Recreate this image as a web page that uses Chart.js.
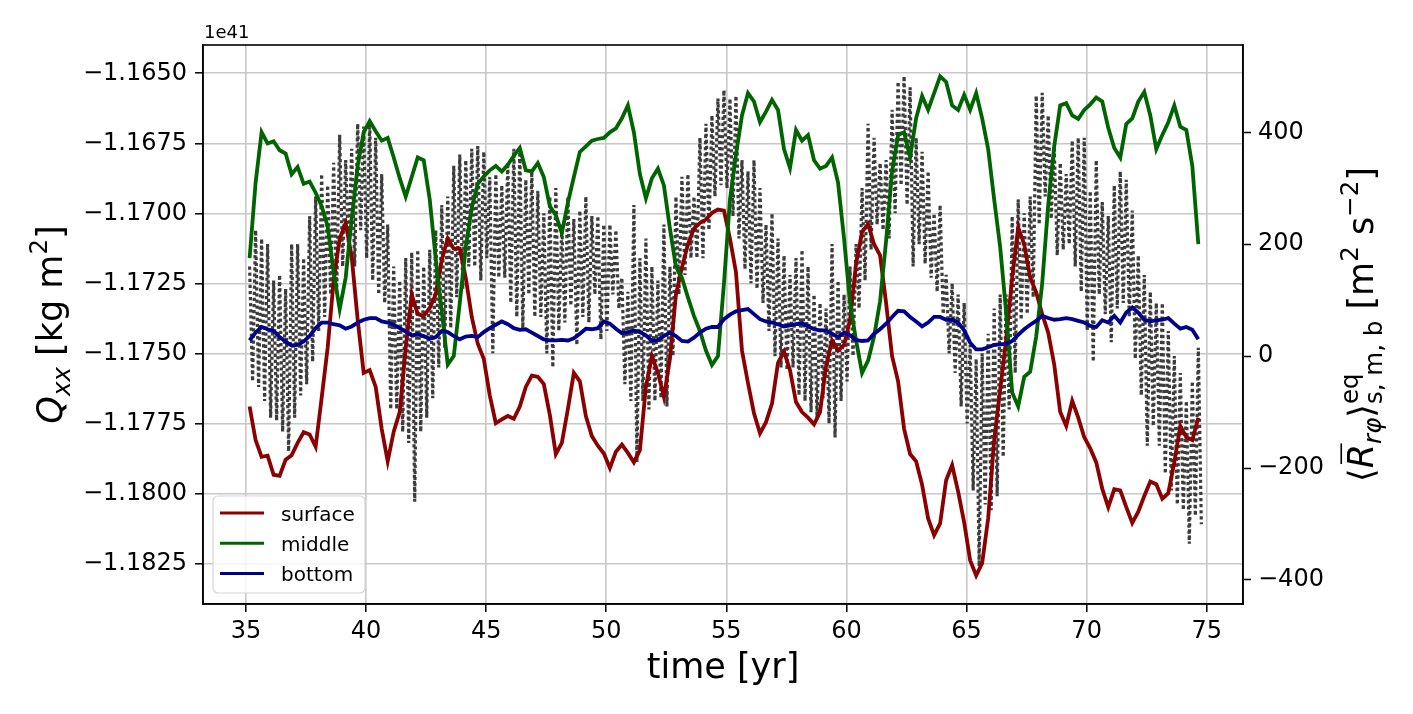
<!DOCTYPE html>
<html>
<head>
<meta charset="utf-8">
<title>Qxx and equatorial Reynolds stress</title>
<script src="https://cdn.jsdelivr.net/npm/chart.js@4.4.1/dist/chart.umd.min.js"></script>
<style>
  html, body { margin: 0; padding: 0; background: #fff; }
  #wrap { width: 1413px; height: 714px; }
</style>
</head>
<body>
<div id="wrap"><canvas id="chart" width="1413" height="714" style="width:1413px;height:714px"></canvas></div>
<script>
// sampling grid (years)
var T0 = 35.15;
var DT = 0.25;
var QXX_DT = 0.125;

var X_TICKS = [35, 40, 45, 50, 55, 60, 65, 70, 75];
var QXX_TICKS = [-1.1825, -1.1800, -1.1775, -1.1750, -1.1725, -1.1700, -1.1675, -1.1650];
var R_TICKS = [-400, -200, 0, 200, 400];

var QXX = [
  -1.1719, -1.1760, -1.1706, -1.1762, -1.1709, -1.1767, -1.1711, -1.1773, // 35
  -1.1724, -1.1774, -1.1722, -1.1778, -1.1727, -1.1785, -1.1711, -1.1773, // 36
  -1.1711, -1.1765, -1.1716, -1.1761, -1.1701, -1.1753, -1.1694, -1.1742, // 37
  -1.1686, -1.1737, -1.1690, -1.1729, -1.1682, -1.1729, -1.1672, -1.1719, // 38
  -1.1681, -1.1714, -1.1677, -1.1719, -1.1668, -1.1706, -1.1669, -1.1716, // 39
  -1.1667, -1.1724, -1.1673, -1.1729, -1.1686, -1.1732, -1.1704, -1.1770, // 40
  -1.1719, -1.1770, -1.1724, -1.1778, -1.1716, -1.1782, -1.1714, -1.1803, // 41
  -1.1713, -1.1778, -1.1719, -1.1773, -1.1713, -1.1766, -1.1706, -1.1755, // 42
  -1.1697, -1.1748, -1.1694, -1.1741, -1.1683, -1.1730, -1.1679, -1.1727, // 43
  -1.1681, -1.1719, -1.1677, -1.1719, -1.1676, -1.1724, -1.1678, -1.1716, // 44
  -1.1687, -1.1750, -1.1686, -1.1723, -1.1690, -1.1723, -1.1682, -1.1732, // 45
  -1.1677, -1.1737, -1.1677, -1.1741, -1.1688, -1.1729, -1.1685, -1.1737, // 46
  -1.1692, -1.1737, -1.1700, -1.1750, -1.1694, -1.1755, -1.1691, -1.1742, // 47
  -1.1704, -1.1739, -1.1694, -1.1733, -1.1702, -1.1747, -1.1699, -1.1737, // 48
  -1.1694, -1.1739, -1.1701, -1.1729, -1.1701, -1.1745, -1.1704, -1.1742, // 49
  -1.1704, -1.1729, -1.1706, -1.1734, -1.1723, -1.1761, -1.1728, -1.1767, // 50
  -1.1697, -1.1789, -1.1716, -1.1767, -1.1709, -1.1770, -1.1719, -1.1767, // 51
  -1.1724, -1.1766, -1.1704, -1.1769, -1.1719, -1.1751, -1.1694, -1.1729, // 52
  -1.1687, -1.1722, -1.1686, -1.1716, -1.1694, -1.1716, -1.1673, -1.1716, // 53
  -1.1668, -1.1706, -1.1665, -1.1694, -1.1659, -1.1690, -1.1656, -1.1691, // 54
  -1.1659, -1.1701, -1.1658, -1.1709, -1.1681, -1.1720, -1.1685, -1.1725, // 55
  -1.1681, -1.1727, -1.1691, -1.1732, -1.1704, -1.1742, -1.1700, -1.1751, // 56
  -1.1709, -1.1755, -1.1715, -1.1756, -1.1722, -1.1755, -1.1716, -1.1765, // 57
  -1.1713, -1.1767, -1.1719, -1.1771, -1.1729, -1.1773, -1.1732, -1.1766, // 58
  -1.1734, -1.1775, -1.1711, -1.1780, -1.1724, -1.1767, -1.1729, -1.1760, // 59
  -1.1719, -1.1751, -1.1711, -1.1734, -1.1691, -1.1724, -1.1668, -1.1713, // 60
  -1.1673, -1.1704, -1.1682, -1.1706, -1.1681, -1.1709, -1.1663, -1.1700, // 61
  -1.1653, -1.1690, -1.1651, -1.1697, -1.1655, -1.1719, -1.1673, -1.1711, // 62
  -1.1678, -1.1718, -1.1685, -1.1723, -1.1700, -1.1728, -1.1697, -1.1736, // 63
  -1.1722, -1.1750, -1.1725, -1.1757, -1.1729, -1.1769, -1.1732, -1.1775, // 64
  -1.1747, -1.1799, -1.1752, -1.1826, -1.1750, -1.1804, -1.1743, -1.1806, // 65
  -1.1734, -1.1801, -1.1729, -1.1787, -1.1729, -1.1770, -1.1701, -1.1757, // 66
  -1.1695, -1.1738, -1.1700, -1.1736, -1.1694, -1.1730, -1.1658, -1.1704, // 67
  -1.1657, -1.1694, -1.1665, -1.1702, -1.1676, -1.1715, -1.1682, -1.1713, // 68
  -1.1686, -1.1711, -1.1674, -1.1719, -1.1673, -1.1728, -1.1673, -1.1742, // 69
  -1.1692, -1.1753, -1.1681, -1.1729, -1.1696, -1.1736, -1.1701, -1.1746, // 70
  -1.1690, -1.1734, -1.1685, -1.1732, -1.1688, -1.1737, -1.1699, -1.1752, // 71
  -1.1715, -1.1765, -1.1722, -1.1783, -1.1728, -1.1776, -1.1732, -1.1783, // 72
  -1.1732, -1.1793, -1.1742, -1.1799, -1.1751, -1.1804, -1.1757, -1.1806, // 73
  -1.1767, -1.1818, -1.1760, -1.1808, -1.1748, -1.1811                    // 74
];

// <R_rphi> [m^2 s^-2] at three depths
var SURFACE = [
  -90, -150, -180, -178,   -212, -214, -185, -177,   -155, -136, -140, -162,   // 35-37
  -75, 15, 135, 210,       238, 178, 65, -30,        -25, -55, -130, -188,     // 38-40
  -135, -100, 15, 110,     75, 72, 86, 110,          172, 210, 192, 192,       // 41-43
  140, 70, 22, -5,         -70, -120, -113, -107,    -112, -90, -55, -35,      // 44-46
  -37, -50, -105, -175,    -155, -95, -30, -45,      -107, -143, -160, -174,   // 47-49
  -200, -171, -158, -173,  -190, -168, -55, 0,       -30, -73, -5, 110,        // 50-52
  158, 200, 228, 238,      244, 256, 262, 260,       210, 150, 10, -48,        // 53-55
  -102, -138, -118, -85,   -12, 8, -25, -82,         -100, -110, -122, -100,   // 56-58
  -18, 28, 10, 20,         65, 165, 222, 236,        200, 180, 95, 0,          // 59-61
  -45, -130, -175, -188,   -230, -290, -320, -299,   -222, -195, -242, -297,   // 62-64
  -365, -392, -370, -290,  -150, -60, 30, 140,       230, 200, 140, 114,       // 65-67
  75, 42, -15, -100,       -125, -80, -110, -145,    -165, -190, -237, -270,   // 68-70
  -238, -240, -270, -298,  -278, -250, -224, -229,   -255, -245, -190, -125,   // 71-73
  -145, -150, -110                                                             // 74
];

var MIDDLE = [
  175, 310, 400, 380,      384, 368, 362, 325,       338, 308, 312, 292,       // 35-37
  268, 232, 150, 84,       140, 245, 340, 400,       420, 402, 385, 390,       // 38-40
  355, 318, 285, 320,      355, 350, 280, 174,       80, -15, 0, 95,           // 41-43
  195, 265, 308, 321,      332, 340, 330, 342,       358, 372, 332, 330,       // 44-46
  345, 320, 268, 252,      220, 274, 320, 365,       375, 385, 388, 390,       // 47-49
  400, 407, 425, 448,      400, 325, 282, 318,       335, 305, 228, 160,       // 50-52
  140, 105, 72, 45,        10, -16, 0, 130,          280, 360, 430, 470,       // 53-55
  455, 418, 437, 458,      440, 370, 336, 404,       385, 395, 350, 335,       // 56-58
  340, 355, 310, 210,      95, 28, -30, -8,          35, 98, 206, 330,         // 59-61
  395, 400, 355, 425,      465, 440, 470, 500,       490, 448, 440, 467,       // 62-64
  440, 470, 425, 370,      280, 195, 78, -65,        -90, -37, -28, 35,        // 65-67
  130, 270, 375, 448,      452, 430, 424, 440,       450, 462, 455, 408,       // 68-70
  372, 355, 415, 425,      455, 472, 430, 370,       395, 418, 448, 410,       // 71-73
  404, 340, 200                                                                // 74
];

var BOTTOM = [
  28, 42, 52, 48,   45, 34, 26, 19,   20, 26, 36, 50,   // 35-37
  60, 60, 57, 55,   49, 53, 60, 65,   68, 68, 62, 60,   // 38-40
  56, 50, 44, 37,   39, 36, 31, 34,   45, 43, 36, 30,   // 41-43
  35, 36, 34, 43,   50, 56, 62, 57,   50, 47, 48, 42,   // 44-46
  36, 30, 28, 28,   29, 28, 32, 40,   49, 48, 50, 62,   // 47-49
  58, 49, 41, 43,   46, 43, 37, 27,   29, 36, 42, 36,   // 50-52
  27, 26, 33, 42,   49, 52, 52, 66,   74, 80, 82, 84,   // 53-55
  75, 66, 62, 60,   57, 53, 55, 57,   59, 53, 48, 46,   // 56-58
  46, 40, 34, 42,   37, 29, 27, 28,   40, 48, 58, 70,   // 59-61
  81, 80, 70, 62,   53, 60, 70, 70,   65, 65, 60, 46,   // 62-64
  24, 12, 12, 16,   20, 21, 22, 27,   38, 48, 56, 63,   // 65-67
  72, 68, 65, 66,   68, 66, 63, 60,   54, 52, 64, 60,   // 68-70
  72, 60, 78, 87,   78, 65, 62, 64,   65, 68, 58, 49,   // 71-73
  52, 47, 30                                          // 74
];

var COLORS = {
  qxx: '#3c3c3c',
  surface: '#8b0000',
  middle: '#006400',
  bottom: '#00008b',
  grid: '#c8c8c8',
  axis: '#000000'
};

var FONT = "'DejaVu Sans', sans-serif";

function toPoints(values, t0, dt) {
  return values.map(function(v, i) { return { x: t0 + i * dt, y: v }; });
}

function minus(s) {
  return String(s).replace('-', '\u2212');
}

function fixedTicks(list) {
  return function(scale) {
    scale.ticks = list.map(function(v) { return { value: v }; });
  };
}

// draws a rotated or flat run of text pieces with sub/superscripts
function drawRich(ctx, parts, x, y, size, angle) {
  var small = size * 0.7;
  var items = parts.map(function(p) {
    var fs = (p.sub || p.sup) ? small : size;
    var font = (p.it ? 'italic ' : '') + fs + 'px ' + FONT;
    ctx.font = font;
    return { p: p, font: font, w: ctx.measureText(p.t).width };
  });
  var total = 0;
  for (var i = 0; i < items.length; i++) {
    if (items[i].p.stack) {
      total += Math.max(items[i].w, items[i + 1].w);
      i++;
    } else {
      total += items[i].w;
    }
  }
  ctx.save();
  ctx.translate(x, y);
  ctx.rotate(angle);
  ctx.textAlign = 'left';
  ctx.textBaseline = 'alphabetic';
  ctx.fillStyle = '#000';
  var cx = -total / 2;
  for (var j = 0; j < items.length; j++) {
    var it = items[j];
    var dy = it.p.sub ? size * 0.24 : (it.p.sup ? -size * 0.42 : 0);
    ctx.font = it.font;
    ctx.fillText(it.p.t, cx, dy);
    if (it.p.bar) {
      ctx.fillRect(cx + size * 0.12, -size * 0.93, it.w * 0.85, 1.6);
    }
    if (it.p.stack) {
      var nx = items[j + 1];
      ctx.font = nx.font;
      ctx.fillText(nx.p.t, cx, size * 0.26);
      cx += Math.max(it.w, nx.w);
      j++;
    } else {
      cx += it.w;
    }
  }
  ctx.restore();
}

var decorations = {
  id: 'decorations',
  afterDraw: function(chart) {
    var ctx = chart.ctx;
    var a = chart.chartArea;
    ctx.save();

    // frame
    ctx.strokeStyle = COLORS.axis;
    ctx.lineWidth = 1.6;
    ctx.strokeRect(a.left, a.top, a.right - a.left, a.bottom - a.top);

    // offset text of the left axis
    ctx.fillStyle = '#000';
    ctx.font = '18px ' + FONT;
    ctx.textAlign = 'left';
    ctx.textBaseline = 'alphabetic';
    ctx.fillText('1e41', a.left + 1, a.top - 7);

    // legend, lower left
    var lines = chart.data.datasets.filter(function(d) { return d.showInLegend; });
    var bx = a.left + 10, by = a.bottom - 108, bw = 152, bh = 97, r = 5;
    ctx.beginPath();
    ctx.moveTo(bx + r, by);
    ctx.lineTo(bx + bw - r, by);
    ctx.arcTo(bx + bw, by, bx + bw, by + r, r);
    ctx.lineTo(bx + bw, by + bh - r);
    ctx.arcTo(bx + bw, by + bh, bx + bw - r, by + bh, r);
    ctx.lineTo(bx + r, by + bh);
    ctx.arcTo(bx, by + bh, bx, by + bh - r, r);
    ctx.lineTo(bx, by + r);
    ctx.arcTo(bx, by, bx + r, by, r);
    ctx.closePath();
    ctx.fillStyle = 'rgba(255,255,255,0.8)';
    ctx.fill();
    ctx.strokeStyle = '#d6d6d6';
    ctx.lineWidth = 1.2;
    ctx.stroke();
    ctx.font = '20px ' + FONT;
    lines.forEach(function(d, i) {
      var ly = by + 17 + i * 30.3;
      ctx.strokeStyle = d.borderColor;
      ctx.lineWidth = 3;
      ctx.beginPath();
      ctx.moveTo(bx + 7, ly);
      ctx.lineTo(bx + 51, ly);
      ctx.stroke();
      ctx.fillStyle = '#000';
      ctx.fillText(d.label, bx + 68, ly + 7.5);
    });
    ctx.restore();

    // axis titles
    drawRich(ctx, [{ t: 'time [yr]' }], (a.left + a.right) / 2, 678, 35, 0);
    drawRich(ctx, [
      { t: 'Q', it: true }, { t: 'xx', it: true, sub: true },
      { t: ' [kg m' }, { t: '2', sup: true }, { t: ']' }
    ], 62, (a.top + a.bottom) / 2, 35, -Math.PI / 2);
    drawRich(ctx, [
      { t: '\u27e8' }, { t: 'R', it: true, bar: true }, { t: 'r\u03c6', it: true, sub: true },
      { t: '\u27e9' }, { t: 'eq', sup: true, stack: true }, { t: 's, m, b', sub: true },
      { t: ' [m' }, { t: '2', sup: true }, { t: ' s' }, { t: '\u22122', sup: true }, { t: ']' }
    ], 1373, (a.top + a.bottom) / 2, 35, -Math.PI / 2);
  }
};

function lineSet(label, values, color, order) {
  return {
    label: label,
    data: toPoints(values, T0, DT),
    yAxisID: 'y1',
    borderColor: color,
    borderWidth: 3.8,
    pointRadius: 0,
    tension: 0,
    order: order,
    showInLegend: true
  };
}

var tickFont = { family: FONT, size: 24 };

new Chart(document.getElementById('chart'), {
  type: 'line',
  data: {
    datasets: [
      lineSet('surface', SURFACE, COLORS.surface, 3),
      lineSet('middle', MIDDLE, COLORS.middle, 2),
      lineSet('bottom', BOTTOM, COLORS.bottom, 1),
      {
        label: 'Qxx',
        data: toPoints(QXX, T0, QXX_DT),
        yAxisID: 'y',
        borderColor: COLORS.qxx,
        borderWidth: 3.2,
        borderDash: [3.2, 2.9],
        borderCapStyle: 'butt',
        borderJoinStyle: 'bevel',
        pointRadius: 0,
        tension: 0,
        order: 4
      }
    ]
  },
  options: {
    responsive: false,
    animation: false,
    events: [],
    layout: { padding: { top: 45, left: 0, right: 0, bottom: 0 } },
    plugins: { legend: { display: false }, tooltip: { enabled: false } },
    scales: {
      x: {
        type: 'linear',
        min: 33.21,
        max: 76.51,
        afterBuildTicks: fixedTicks(X_TICKS),
        afterFit: function(s) { s.height = 110; },
        ticks: { font: tickFont, color: '#000', padding: 5, maxRotation: 0, autoSkip: false,
                 callback: function(v) { return String(v); } },
        grid: { color: COLORS.grid, lineWidth: 1.6, tickLength: 8, tickColor: '#000', tickWidth: 1.5 },
        border: { color: COLORS.axis, width: 1.6 }
      },
      y: {
        type: 'linear',
        position: 'left',
        min: -1.18395,
        max: -1.16399,
        afterBuildTicks: fixedTicks(QXX_TICKS),
        afterFit: function(s) { s.width = 203; },
        ticks: { font: tickFont, color: '#000', padding: 8, autoSkip: false,
                 callback: function(v) { return minus(v.toFixed(4)); } },
        grid: { color: COLORS.grid, lineWidth: 1.6, tickLength: 8, tickColor: '#000', tickWidth: 1.5 },
        border: { color: COLORS.axis, width: 1.6 }
      },
      y1: {
        type: 'linear',
        position: 'right',
        min: -443,
        max: 556,
        afterBuildTicks: fixedTicks(R_TICKS),
        afterFit: function(s) { s.width = 170; },
        ticks: { font: tickFont, color: '#000', padding: 7, autoSkip: false,
                 callback: function(v) { return minus(v); } },
        grid: { drawOnChartArea: false, tickLength: 8, tickColor: '#000', tickWidth: 1.5 },
        border: { color: COLORS.axis, width: 1.6 }
      }
    }
  },
  plugins: [decorations]
});
</script>
</body>
</html>
